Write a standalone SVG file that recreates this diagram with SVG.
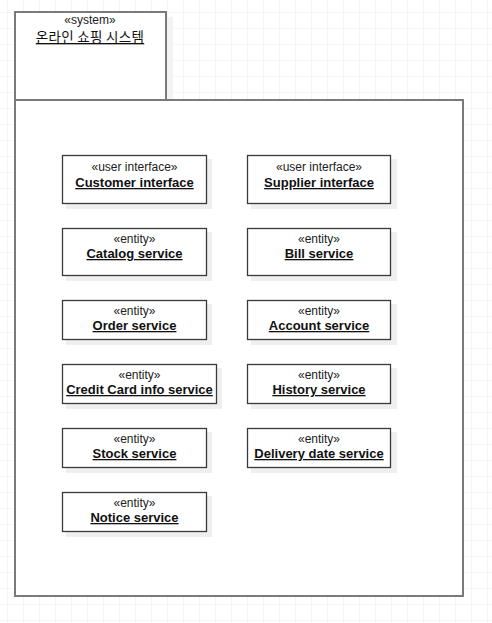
<svg xmlns="http://www.w3.org/2000/svg" width="492" height="623" viewBox="0 0 492 623">
<defs>
<pattern id="grid" x="7" y="12" width="16" height="16" patternUnits="userSpaceOnUse">
<path d="M0 0H16M0 0V16" fill="none" stroke="#ededed" stroke-width="1.2"/>
</pattern>
</defs>
<style>
.box{fill:#fff;stroke:#3a3a3a;stroke-width:1.3}
.sh{fill:#efefef}
.st{font-family:"Liberation Sans",Arial,sans-serif;font-size:12px;fill:#222;text-anchor:middle}
.nm{font-family:"Liberation Sans",Arial,sans-serif;font-size:13px;font-weight:bold;fill:#111;text-anchor:middle;text-decoration:underline}
.pk{fill:#fff;stroke:#7a7a7a;stroke-width:2}
</style>
<rect width="492" height="623" fill="#fff"/>
<rect width="492" height="623" fill="url(#grid)"/>
<g id="system">
<rect x="166" y="17" width="7" height="83" fill="#f3f3f3"/>
<rect class="pk" x="15" y="12" width="151" height="88"/>
<rect class="pk" x="15" y="100" width="448" height="496"/>
<text class="st" x="90" y="24">«system»</text>
<text x="90" y="42" font-family="'Noto Sans CJK KR',sans-serif" font-size="13.5" fill="#111" text-anchor="middle" text-decoration="underline" letter-spacing="0.3">온라인 쇼핑 시스템</text>
</g>
<g id="connectors"/>
<g id="customer-interface">
<rect class="sh" x="66" y="159" width="146" height="50"/>
<rect class="box" x="62.5" y="155.5" width="144" height="48"/>
<text class="st" x="134.5" y="171">«user interface»</text>
<text class="nm" x="134.5" y="187">Customer interface</text>
</g>
<g id="supplier-interface">
<rect class="sh" x="251" y="159" width="146" height="50"/>
<rect class="box" x="247.5" y="155.5" width="143" height="48"/>
<text class="st" x="319" y="171">«user interface»</text>
<text class="nm" x="319" y="187">Supplier interface</text>
</g>
<g id="catalog-service">
<rect class="sh" x="66" y="232" width="146" height="49"/>
<rect class="box" x="62.5" y="228.5" width="144" height="47"/>
<text class="st" x="134.5" y="243">«entity»</text>
<text class="nm" x="134.5" y="258">Catalog service</text>
</g>
<g id="bill-service">
<rect class="sh" x="251" y="232" width="146" height="49"/>
<rect class="box" x="247.5" y="228.5" width="143" height="47"/>
<text class="st" x="319" y="243">«entity»</text>
<text class="nm" x="319" y="258">Bill service</text>
</g>
<g id="order-service">
<rect class="sh" x="66" y="304" width="146" height="41"/>
<rect class="box" x="62.5" y="300.5" width="144" height="39"/>
<text class="st" x="134.5" y="315">«entity»</text>
<text class="nm" x="134.5" y="330">Order service</text>
</g>
<g id="account-service">
<rect class="sh" x="251" y="304" width="146" height="41"/>
<rect class="box" x="247.5" y="300.5" width="143" height="39"/>
<text class="st" x="319" y="315">«entity»</text>
<text class="nm" x="319" y="330">Account service</text>
</g>
<g id="credit-card-info-service">
<rect class="sh" x="66" y="368" width="156" height="41"/>
<rect class="box" x="62.5" y="364.5" width="154" height="39"/>
<text class="st" x="139.5" y="379">«entity»</text>
<text class="nm" x="139.5" y="394">Credit Card info service</text>
</g>
<g id="history-service">
<rect class="sh" x="251" y="368" width="146" height="41"/>
<rect class="box" x="247.5" y="364.5" width="143" height="39"/>
<text class="st" x="319" y="379">«entity»</text>
<text class="nm" x="319" y="394">History service</text>
</g>
<g id="stock-service">
<rect class="sh" x="66" y="432" width="146" height="41"/>
<rect class="box" x="62.5" y="428.5" width="144" height="39"/>
<text class="st" x="134.5" y="443">«entity»</text>
<text class="nm" x="134.5" y="458">Stock service</text>
</g>
<g id="delivery-date-service">
<rect class="sh" x="251" y="432" width="146" height="41"/>
<rect class="box" x="247.5" y="428.5" width="143" height="39"/>
<text class="st" x="319" y="443">«entity»</text>
<text class="nm" x="319" y="458">Delivery date service</text>
</g>
<g id="notice-service">
<rect class="sh" x="66" y="496" width="146" height="41"/>
<rect class="box" x="62.5" y="492.5" width="144" height="39"/>
<text class="st" x="134.5" y="507">«entity»</text>
<text class="nm" x="134.5" y="522">Notice service</text>
</g>
</svg>
